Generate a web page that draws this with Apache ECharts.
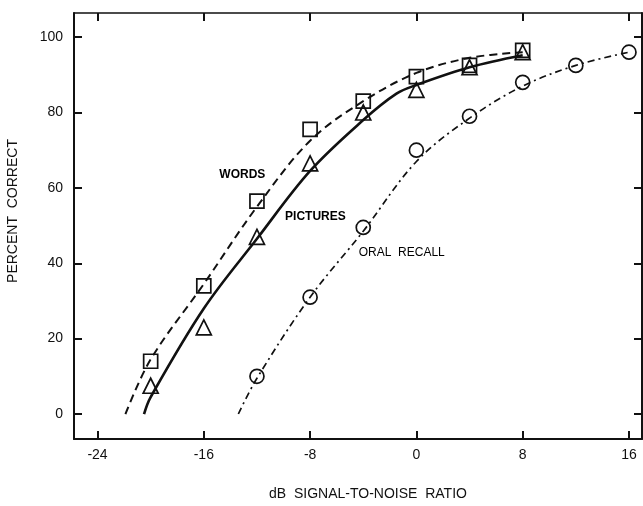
<!DOCTYPE html>
<html>
<head>
<meta charset="utf-8">
<title>Percent correct vs signal-to-noise ratio</title>
<script src="https://cdn.jsdelivr.net/npm/echarts@6/dist/echarts.min.js"></script>
<style>
    html, body { margin: 0; padding: 0; background: #fff; }
    #chart { width: 643px; height: 506px; }
</style>
</head>
<body>
<div id="chart"></div>
<script>
// 刻度
var xTicks = [-24, -16, -8, 0, 8, 16];
var yTicks = [0, 20, 40, 60, 80, 100];

// 测量点
var wordsX = [-20, -16, -12, -8, -4, 0, 4, 8];
var wordsY = [14, 34, 56.5, 75.5, 83, 89.5, 92.5, 96.5];
var picturesX = [-20, -16, -12, -8, -4, 0, 4, 8];
var picturesY = [7.5, 23, 47, 66.5, 80, 86, 92, 96];
var oralX = [-12, -8, -4, 0, 4, 8, 12, 16];
var oralY = [10, 31, 49.5, 70, 79, 88, 92.5, 96];

// 拟合曲线
var wordsFitX = [-21.9, -20, -16, -12, -8, -4, 0, 4, 8];
var wordsFitY = [0, 14.5, 34.5, 55, 72.5, 83, 90.5, 94.5, 96];
var picturesFitX = [-20.5, -20, -16, -12, -8, -4, -1.5, 0, 4, 8];
var picturesFitY = [0, 4.5, 28, 46.5, 64.5, 78, 85, 87.3, 92, 95.2];
var oralFitX = [-13.4, -12, -8, -4, 0, 4, 8, 12, 16];
var oralFitY = [0, 9.5, 31, 48.5, 67, 78.5, 87, 92.5, 96];

// 曲线旁的文字
var labelNames = ['WORDS', 'PICTURES', 'ORAL  RECALL'];
var labelX = [-13.1, -7.6, -1.1];
var labelY = [63.4, 52.3, 42.7];
var labelWeights = ['bold', 'bold', 'normal'];

function pairs(xs, ys) {
    return xs.map(function (x, i) { return [x, ys[i]]; });
}

var ink = '#111';
var font = '"Liberation Sans", Arial, sans-serif';

(function () {
    var myChart = echarts.init(document.getElementById('chart'));

    // 坐标轴公共样式
    function xAxisOf(pos, showLabel) {
        return {
            type: 'value',
            position: pos,
            min: -25.77,
            max: 16.98,
            axisLine: { show: true, onZero: false, lineStyle: { color: ink, width: pos === 'bottom' ? 2 : 1.5 } },
            axisTick: { show: true, inside: true, length: 8, customValues: xTicks, lineStyle: { color: ink, width: 2 } },
            axisLabel: { show: showLabel, customValues: xTicks, color: ink, fontSize: 14, fontFamily: font, margin: 9 },
            splitLine: { show: false }
        };
    }
    function yAxisOf(pos, showLabel) {
        return {
            type: 'value',
            position: pos,
            min: -6.63,
            max: 106.4,
            axisLine: { show: true, onZero: false, lineStyle: { color: ink, width: 2 } },
            axisTick: { show: true, inside: true, length: 8, customValues: yTicks, lineStyle: { color: ink, width: 2 } },
            axisLabel: { show: showLabel, customValues: yTicks, color: ink, fontSize: 14, fontFamily: font, margin: 11 },
            splitLine: { show: false }
        };
    }

    var bottomX = xAxisOf('bottom', true);
    bottomX.name = 'dB  SIGNAL-TO-NOISE  RATIO';
    bottomX.nameLocation = 'middle';
    bottomX.nameGap = 48;
    bottomX.nameTextStyle = { color: ink, fontSize: 14, fontFamily: font, padding: [0, 0, 0, 20] };

    var leftY = yAxisOf('left', true);
    leftY.name = 'PERCENT  CORRECT';
    leftY.nameLocation = 'middle';
    leftY.nameGap = 54;
    leftY.nameTextStyle = { color: ink, fontSize: 14, fontFamily: font, padding: [0, 0, 0, 30] };

    // 空心标记
    function markers(name, xs, ys, symbol, size) {
        return {
            name: name,
            type: 'scatter',
            symbol: symbol,
            symbolSize: size,
            data: pairs(xs, ys),
            itemStyle: { color: 'rgba(0,0,0,0)', borderColor: ink, borderWidth: 1.7, opacity: 1 },
            z: 3
        };
    }
    function fit(name, xs, ys, width, dash) {
        return {
            name: name,
            type: 'line',
            data: pairs(xs, ys),
            showSymbol: false,
            smooth: 0.35,
            lineStyle: { color: ink, width: width, type: dash },
            z: 2
        };
    }

    var option = {
        animation: false,
        backgroundColor: '#fff',
        grid: { left: 74, right: 1, top: 13, bottom: 67, containLabel: false, outerBoundsMode: 'none' },
        xAxis: [bottomX, xAxisOf('top', false)],
        yAxis: [leftY, yAxisOf('right', false)],
        series: [
            fit('words fit', wordsFitX, wordsFitY, 2, [8, 5]),
            fit('pictures fit', picturesFitX, picturesFitY, 2.6, 'solid'),
            fit('oral fit', oralFitX, oralFitY, 1.7, [7, 4, 2, 4]),
            markers('WORDS', wordsX, wordsY, 'rect', 14),
            markers('PICTURES', picturesX, picturesY, 'triangle', 15),
            markers('ORAL RECALL', oralX, oralY, 'circle', 14),
            {
                name: 'labels',
                type: 'scatter',
                symbolSize: 0,
                silent: true,
                itemStyle: { opacity: 1 },
                data: labelNames.map(function (n, i) {
                    return {
                        value: [labelX[i], labelY[i]],
                        name: n,
                        label: { fontWeight: labelWeights[i] }
                    };
                }),
                label: {
                    show: true,
                    position: 'inside',
                    color: '#000',
                    opacity: 1,
                    fontSize: 12,
                    fontFamily: font,
                    formatter: '{b}'
                }
            }
        ]
    };
    myChart.setOption(option);
    window.addEventListener('resize', function () {
        myChart.resize();
    });
})();
</script>
</body>
</html>
